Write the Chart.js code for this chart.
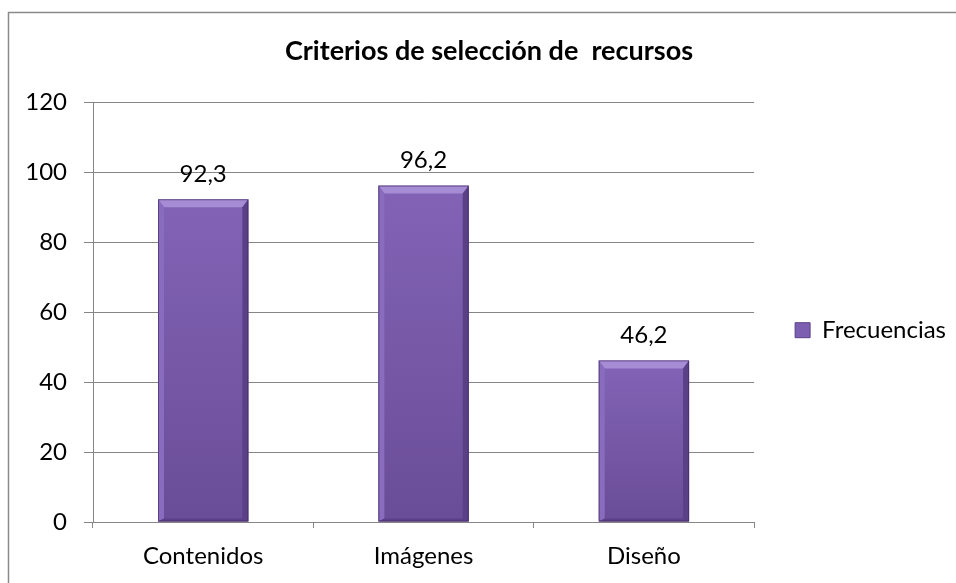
<!DOCTYPE html>
<html>
<head>
<meta charset="utf-8">
<script src="https://cdn.jsdelivr.net/npm/chart.js@4/dist/chart.umd.min.js"></script>
<style>
html,body{margin:0;padding:0;background:#fff;}
#wrap{width:956px;height:583px;position:relative;}
</style>
</head>
<body>
<div id="wrap"><canvas id="c" width="956" height="583"></canvas></div>
<script>
const categories = ['Contenidos', 'Imágenes', 'Diseño'];
const frecuencias = [92.3, 96.2, 46.2];
const valueLabels = ['92,3', '96,2', '46,2'];
const yTicks = [0, 20, 40, 60, 80, 100, 120];
const titleText = 'Criterios de selección de  recursos';
const seriesName = 'Frecuencias';

const FONT = 'Lato, "Open Sans", sans-serif';

const framePlugin = {
  id: 'frame',
  beforeDraw(chart) {
    const ctx = chart.ctx;
    ctx.save();
    ctx.fillStyle = '#fff';
    ctx.fillRect(0, 0, chart.width, chart.height);
    ctx.strokeStyle = '#8a8a8a';
    ctx.lineWidth = 1.5;
    ctx.strokeRect(8.5, 12.5, chart.width + 20, chart.height + 20);
    ctx.restore();
  }
};

function drawBevelBar(ctx, x, y, w, h) {
  const b = Math.min(8, h / 3);
  const s = 6;
  const g = ctx.createLinearGradient(0, y, 0, y + h);
  g.addColorStop(0, '#8263b6');
  g.addColorStop(1, '#6a4d98');
  ctx.fillStyle = g;
  ctx.fillRect(x, y, w, h);
  ctx.fillStyle = '#a68cd4';
  ctx.beginPath();
  ctx.moveTo(x, y); ctx.lineTo(x + w, y); ctx.lineTo(x + w - s, y + b); ctx.lineTo(x + s, y + b); ctx.closePath(); ctx.fill();
  ctx.fillStyle = '#8a6cbf';
  ctx.beginPath();
  ctx.moveTo(x, y); ctx.lineTo(x + s, y + b); ctx.lineTo(x + s, y + h - 3); ctx.lineTo(x, y + h); ctx.closePath(); ctx.fill();
  ctx.fillStyle = '#5a4086';
  ctx.beginPath();
  ctx.moveTo(x + w, y); ctx.lineTo(x + w, y + h); ctx.lineTo(x + w - s, y + h - 3); ctx.lineTo(x + w - s, y + b); ctx.closePath(); ctx.fill();
  ctx.fillStyle = '#5a4088';
  ctx.beginPath();
  ctx.moveTo(x, y + h); ctx.lineTo(x + s, y + h - 3); ctx.lineTo(x + w - s, y + h - 3); ctx.lineTo(x + w, y + h); ctx.closePath(); ctx.fill();
  ctx.strokeStyle = 'rgba(60,40,90,0.6)';
  ctx.lineWidth = 1;
  ctx.strokeRect(x + 0.5, y + 0.5, w - 1, h - 1);
}

const bevelPlugin = {
  id: 'bevel',
  afterDatasetsDraw(chart) {
    const ctx = chart.ctx;
    const meta = chart.getDatasetMeta(0);
    ctx.save();
    meta.data.forEach((bar, i) => {
      const p = bar.getProps(['x', 'y', 'base', 'width'], true);
      const left = p.x - p.width / 2;
      drawBevelBar(ctx, left, p.y, p.width, p.base - p.y);
      ctx.fillStyle = '#000';
      ctx.font = '24px ' + FONT;
      ctx.textAlign = 'center';
      ctx.textBaseline = 'middle';
      ctx.fillText(valueLabels[i], p.x, p.y - 25);
    });
    ctx.restore();
  }
};

new Chart(document.getElementById('c'), {
  type: 'bar',
  data: {
    labels: categories,
    datasets: [{
      label: seriesName,
      data: frecuencias,
      backgroundColor: 'rgba(0,0,0,0)',
      borderWidth: 0,
      categoryPercentage: 1.0,
      barPercentage: 0.41
    }]
  },
  options: {
    responsive: false,
    animation: false,
    devicePixelRatio: 1,
    layout: { padding: { left: 22, right: 0, top: 0, bottom: 8 } },
    plugins: {
      tooltip: { enabled: false },
      title: {
        display: true,
        text: titleText,
        fullSize: true,
        color: '#000',
        font: { family: FONT, size: 27, weight: 'bold' },
        padding: { top: 35, bottom: 35 }
      },
      legend: {
        display: true,
        position: 'right',
        fullSize: false,
        maxWidth: 204,
        title: { display: true, text: '', padding: 0, font: { size: 30 } },
        labels: {
          color: '#000',
          font: { family: FONT, size: 24 },
          boxWidth: 15,
          boxHeight: 15,
          padding: 41,
          generateLabels() {
            return [{
              text: seriesName,
              fillStyle: '#7d5fb2',
              strokeStyle: '#5a4088',
              fontColor: '#000',
              lineWidth: 1,
              hidden: false,
              datasetIndex: 0
            }];
          }
        }
      }
    },
    scales: {
      x: {
        grid: {
          display: true,
          offset: true,
          drawOnChartArea: false,
          drawTicks: true,
          tickLength: 6,
          color: '#868686'
        },
        border: { color: '#868686', width: 1 },
        ticks: {
          color: '#000',
          font: { family: FONT, size: 24 },
          padding: 14
        },
        afterFit(scale) { scale.height = 53; }
      },
      y: {
        min: 0,
        max: 120,
        afterBuildTicks(scale) { scale.ticks = yTicks.map(v => ({ value: v })); },
        grid: {
          color: '#868686',
          drawTicks: true,
          tickLength: 9,
          lineWidth: 1
        },
        border: { color: '#868686', width: 1 },
        ticks: {
          color: '#000',
          font: { family: FONT, size: 24 },
          padding: 17
        },
        afterFit(scale) { scale.width = 71; }
      }
    }
  },
  plugins: [framePlugin, bevelPlugin]
});
</script>
</body>
</html>
